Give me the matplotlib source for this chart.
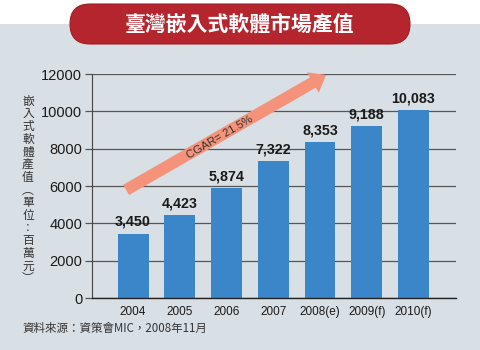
import matplotlib
matplotlib.use("Agg")
import matplotlib.pyplot as plt
from matplotlib.patches import FancyBboxPatch, Rectangle

years = ["2004", "2005", "2006", "2007", "2008(e)", "2009(f)", "2010(f)"]
values = [3450, 4423, 5874, 7322, 8353, 9188, 10083]
yticks = [0, 2000, 4000, 6000, 8000, 10000, 12000]
title = "臺灣嵌入式軟體市場產值"
ylabel = "嵌入式軟體產值︵單位︰百萬元︶"
source = "資料來源：資策會MIC，2008年11月"
cagr_text = "CGAR= 21.5%"

plt.rcParams["font.family"] = ["Liberation Sans", "Noto Sans CJK TC", "DejaVu Sans"]

bg = "#d9e0e5"
bar_color = "#3a86c8"
arrow_color = "#f4937a"

fig = plt.figure(figsize=(4.8, 3.5), dpi=100)
fig.patch.set_facecolor("white")
# light panel behind the chart (starts just under the title pill)
fig.patches.append(Rectangle((0, 0), 1, 1 - 24 / 350, transform=fig.transFigure,
                             facecolor=bg, edgecolor="none", zorder=-2))

# red rounded title pill
pill = FancyBboxPatch((0.70, 3.06), 3.40, 0.40, boxstyle="round,pad=0,rounding_size=0.2",
                      transform=fig.dpi_scale_trans, facecolor="#b5252e",
                      edgecolor="#9e1f27", linewidth=0.8, zorder=-1)
fig.patches.append(pill)
fig.text(0.5, 1 - 24 / 350, title, ha="center", va="center", color="white",
         fontsize=15, fontweight="bold", family=["Noto Sans CJK TC"])

ax = fig.add_axes([92 / 480, 1 - 298 / 350, (456 - 92) / 480, (298 - 74) / 350])
ax.set_facecolor("none")
ax.set_zorder(1)

x = list(range(len(years)))
ax.bar(x, values, width=0.66, color=bar_color, zorder=2)
for xi, v in zip(x, values):
    ax.text(xi, v + 250, f"{v:,}", ha="center", va="bottom", fontsize=10.3,
            fontweight="bold", color="#1a1a1a", zorder=4)

ax.set_xlim(-0.88, 6.91)
ax.set_ylim(0, 12000)
ax.set_xticks(x)
ax.set_xticklabels(years, fontsize=8.5, color="#1a1a1a")
ax.set_yticks(yticks)
ax.set_yticklabels([str(t) for t in yticks], fontsize=10.5, color="#1a1a1a")
ax.tick_params(axis="x", length=0, pad=6)
ax.tick_params(axis="y", length=5, width=0.9, color="#555555", pad=2)
ax.yaxis.grid(True, color="#555555", linewidth=0.9, zorder=1)
ax.set_axisbelow(True)
for s in ["top", "right"]:
    ax.spines[s].set_visible(False)
ax.spines["left"].set_color("#444444")
ax.spines["bottom"].set_color("#222222")
ax.spines["bottom"].set_linewidth(1.0)

# growth arrow
ax.annotate("", xy=(4.13, 11950), xytext=(-0.15, 5790),
            arrowprops=dict(arrowstyle="simple,head_length=1.1,head_width=1.7,tail_width=0.85",
                            facecolor=arrow_color, edgecolor="none", shrinkA=0, shrinkB=0),
            zorder=3)
ax.text(1.86, 8600, cagr_text, rotation=30.5, rotation_mode="anchor", ha="center",
        va="center", fontsize=8.2, color="#333333", zorder=5)

fig.text(28 / 480, 1 - 190 / 350, "\n".join(ylabel), ha="center", va="center",
         fontsize=8.5, linespacing=0.97, color="#333333", family=["Noto Sans CJK TC"])
fig.text(22 / 480, 1 - 328 / 350, source, ha="left", va="center", fontsize=8.3,
         color="#333333", family=["Noto Sans CJK TC"])

fig.savefig("out.png", dpi=100)
